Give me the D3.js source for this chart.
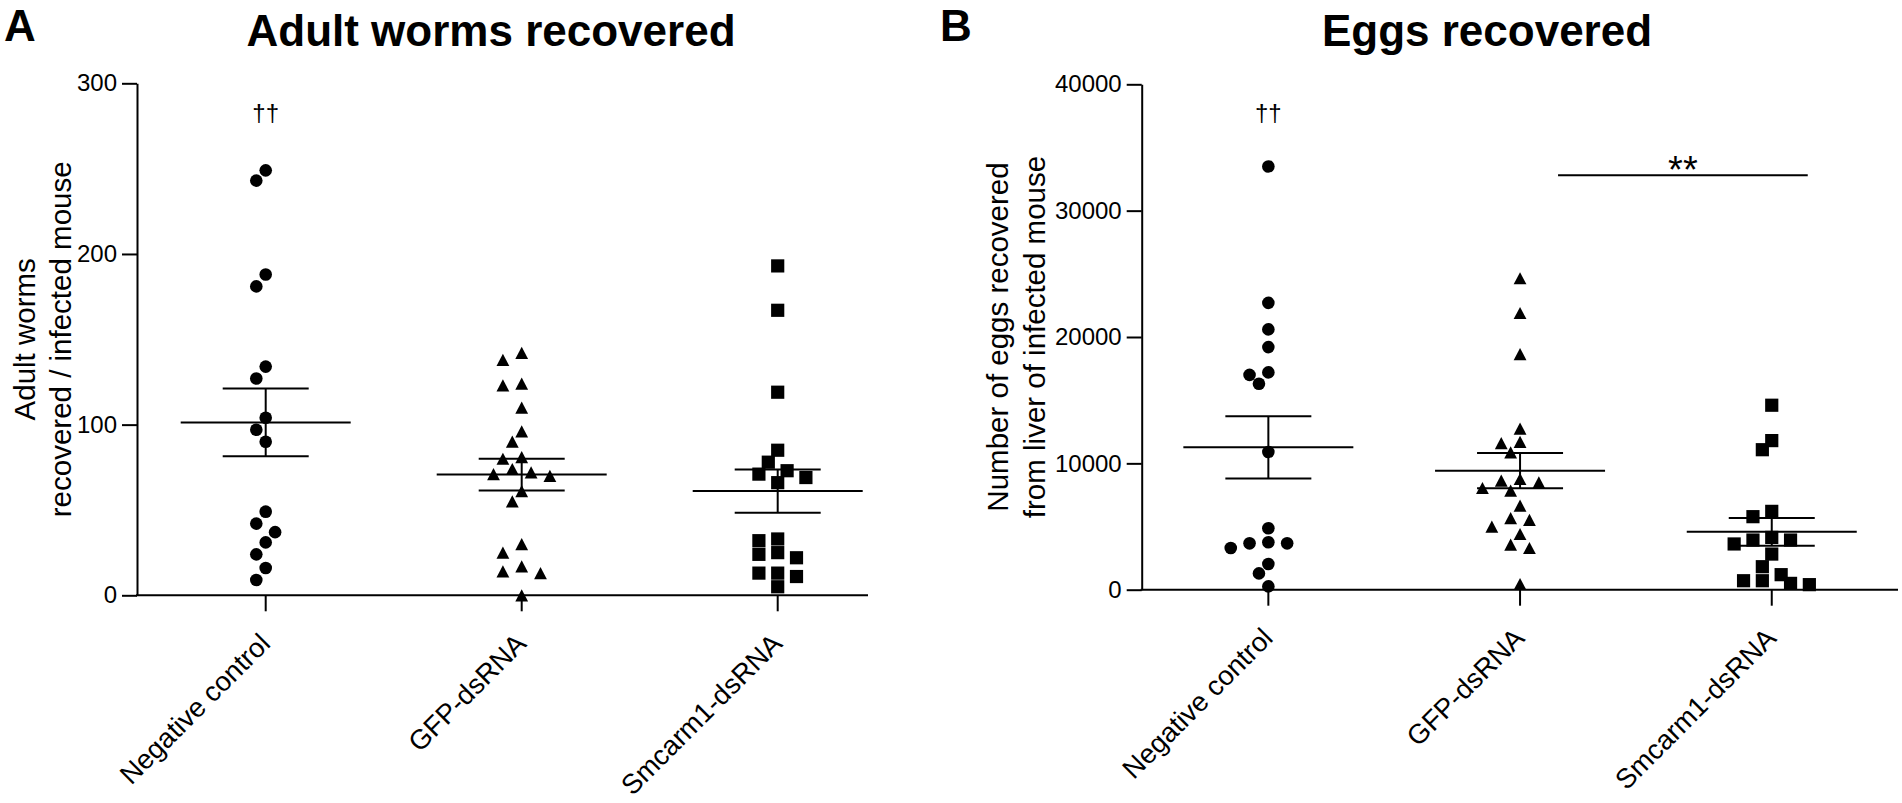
<!DOCTYPE html>
<html>
<head>
<meta charset="utf-8">
<script src="https://cdn.jsdelivr.net/npm/d3@7"></script>
<style>
  body { margin: 0; background: #fff; }
  svg text { font-family: "Liberation Sans", Arial, sans-serif; fill: #000; }
</style>
</head>
<body>
<div id="chart"></div>
<script>
const groups = ["Negative control", "GFP-dsRNA", "Smcarm1-dsRNA"];

// Panel A: adult worms recovered per infected mouse
const wormsNegative = [249, 243, 188, 181, 134, 127, 104, 97, 90, 49, 42, 37, 31, 24, 16, 9];
const wormsGFP = [142, 138, 124, 123, 110, 96, 90, 81, 80, 74, 72, 71, 70, 61, 55, 30, 25, 17, 14, 13, 0];
const wormsSmcarm1 = [193, 167, 119, 85, 78, 73, 71, 69, 66, 33, 32, 25, 24, 22, 13, 13, 11, 5];
const wormTicks = [0, 100, 200, 300];

// Panel B: eggs recovered from liver
const eggsNegative = [33500, 22700, 20600, 19200, 17200, 17000, 16300, 10900, 4860, 3750, 3670, 3670, 3300, 2030, 1290, 260];
const eggsGFP = [24650, 21900, 18650, 12750, 11700, 11600, 10870, 8760, 8630, 8500, 8050, 7840, 6650, 5670, 5520, 4990, 4410, 3560, 3300, 450];
const eggsSmcarm1 = [14600, 11800, 11080, 6200, 5780, 4140, 3930, 3930, 3620, 2820, 1820, 1190, 710, 710, 500, 400];
const eggTicks = [0, 10000, 20000, 30000, 40000];

const width = 1902, height = 803;

const svg = d3.select("#chart")
    .append("svg")
    .attr("width", width)
    .attr("height", height);

// one path generator per group: circle, triangle, square
const shapes = [
    () => d3.symbol(d3.symbolCircle, Math.PI * 6.3 * 6.3)(),
    () => "M0,-6.1L6.4,6.1L-6.4,6.1Z",
    () => "M-6.6,-6.6H6.6V6.6H-6.6Z"
];

// spread points sideways on a grid so they don't sit on top of each other
function dodge(values, y, unit, minDist) {
    const order = d3.range(values.length).sort((a, b) => values[b] - values[a]);
    const placed = [];
    const offsets = new Array(values.length);
    for (const i of order) {
        const py = y(values[i]);
        for (let k = 0; ; k++) {
            const slot = k === 0 ? 0 : (k % 2 ? -1 : 1) * Math.ceil(k / 2);
            const px = slot * unit;
            if (placed.every(p => Math.hypot(p[0] - px, p[1] - py) >= minDist)) {
                placed.push([px, py]);
                offsets[i] = px;
                break;
            }
        }
    }
    return offsets;
}

function drawPanel(cfg) {
    const g = svg.append("g");

    const y = d3.scaleLinear().domain([0, cfg.max]).range([cfg.bottom, cfg.top]);
    const x = d3.scaleBand().domain(groups).range([cfg.bandStart, cfg.bandStart + cfg.step * 3]);
    const center = d => x(d) + x.bandwidth() / 2;

    // y axis
    g.append("g")
        .attr("transform", `translate(${cfg.axisX},0)`)
        .call(d3.axisLeft(y).tickValues(cfg.ticks).tickSize(15).tickSizeOuter(0).tickPadding(5).tickFormat(d3.format("d")))
        .call(a => a.select(".domain").attr("stroke-width", 2))
        .call(a => a.selectAll(".tick line").attr("stroke-width", 2))
        .call(a => a.selectAll(".tick text").attr("font-size", 24).attr("font-family", null));

    // x axis: baseline plus ticks under each group
    g.append("line")
        .attr("x1", cfg.axisX - 1).attr("x2", cfg.xEnd)
        .attr("y1", cfg.bottom).attr("y2", cfg.bottom)
        .attr("stroke", "#000").attr("stroke-width", 2);

    g.append("g")
        .attr("transform", `translate(0,${cfg.bottom})`)
        .call(d3.axisBottom(x).tickSize(16).tickSizeOuter(0))
        .call(a => a.select(".domain").remove())
        .call(a => a.selectAll(".tick line").attr("stroke-width", 2))
        .call(a => a.selectAll(".tick text").remove());

    g.selectAll(".cat")
        .data(groups)
        .enter()
        .append("text")
        .attr("class", "cat")
        .attr("transform", d => `translate(${center(d) + 6},${cfg.bottom + 50}) rotate(-45)`)
        .attr("text-anchor", "end")
        .attr("font-size", 27.5)
        .text(d => d);

    // y axis title, two lines
    cfg.yLabel.forEach((line, i) => {
        g.append("text")
            .attr("transform", `translate(${cfg.yLabelX[i]},${(cfg.top + cfg.bottom) / 2}) rotate(-90)`)
            .attr("text-anchor", "middle")
            .attr("font-size", 29.5)
            .text(line);
    });

    // panel title and letter
    g.append("text")
        .attr("x", cfg.titleX).attr("y", 46)
        .attr("text-anchor", "middle")
        .attr("font-size", 44).attr("font-weight", "bold")
        .text(cfg.title);
    g.append("text")
        .attr("x", cfg.letterX).attr("y", 41)
        .attr("font-size", 44).attr("font-weight", "bold")
        .text(cfg.letter);

    cfg.values.forEach((vals, gi) => {
        const cx = center(groups[gi]);
        const mean = d3.mean(vals);
        const sem = d3.deviation(vals) / Math.sqrt(vals.length);

        // mean and SEM bars
        const bars = g.append("g").attr("stroke", "#000").attr("stroke-width", 2);
        bars.append("line").attr("x1", cx - 85).attr("x2", cx + 85).attr("y1", y(mean)).attr("y2", y(mean));
        bars.append("line").attr("x1", cx - 43).attr("x2", cx + 43).attr("y1", y(mean + sem)).attr("y2", y(mean + sem));
        bars.append("line").attr("x1", cx - 43).attr("x2", cx + 43).attr("y1", y(mean - sem)).attr("y2", y(mean - sem));
        bars.append("line").attr("x1", cx).attr("x2", cx).attr("y1", y(mean + sem)).attr("y2", y(mean - sem));

        const offsets = dodge(vals, y, 9.4, 12.8);
        g.append("g")
            .selectAll("path")
            .data(vals)
            .enter()
            .append("path")
            .attr("d", shapes[gi])
            .attr("transform", (d, i) => `translate(${cx + offsets[i]},${y(d)})`)
            .attr("fill", "#000");
    });

    // daggers over the negative control
    g.append("text")
        .attr("x", center(groups[0])).attr("y", 121)
        .attr("text-anchor", "middle")
        .attr("font-size", 24)
        .text("\u2020\u2020");

    if (cfg.sig) {
        const x1 = center(groups[cfg.sig.from]) + 38;
        const x2 = center(groups[cfg.sig.to]) + 36;
        g.append("line")
            .attr("x1", x1).attr("x2", x2)
            .attr("y1", y(cfg.sig.level)).attr("y2", y(cfg.sig.level))
            .attr("stroke", "#000").attr("stroke-width", 2);
        g.append("text")
            .attr("x", (x1 + x2) / 2).attr("y", y(cfg.sig.level) + 8)
            .attr("text-anchor", "middle")
            .attr("font-size", 38)
            .text(cfg.sig.label);
    }
}

drawPanel({
    values: [wormsNegative, wormsGFP, wormsSmcarm1],
    ticks: wormTicks, max: 300,
    axisX: 137, top: 83.3, bottom: 595.3,
    bandStart: 137.7, step: 256, xEnd: 868,
    title: "Adult worms recovered", titleX: 491,
    letter: "A", letterX: 4,
    yLabel: ["Adult worms", "recovered / infected mouse"], yLabelX: [35, 70.7],
    sig: null
});

drawPanel({
    values: [eggsNegative, eggsGFP, eggsSmcarm1],
    ticks: eggTicks, max: 40000,
    axisX: 1141.7, top: 84.3, bottom: 589.7,
    bandStart: 1142.5, step: 251.7, xEnd: 1898,
    title: "Eggs recovered", titleX: 1487,
    letter: "B", letterX: 940,
    yLabel: ["Number of eggs recovered", "from liver of infected mouse"], yLabelX: [1008, 1045],
    sig: { from: 1, to: 2, level: 32800, label: "**" }
});
</script>
</body>
</html>
